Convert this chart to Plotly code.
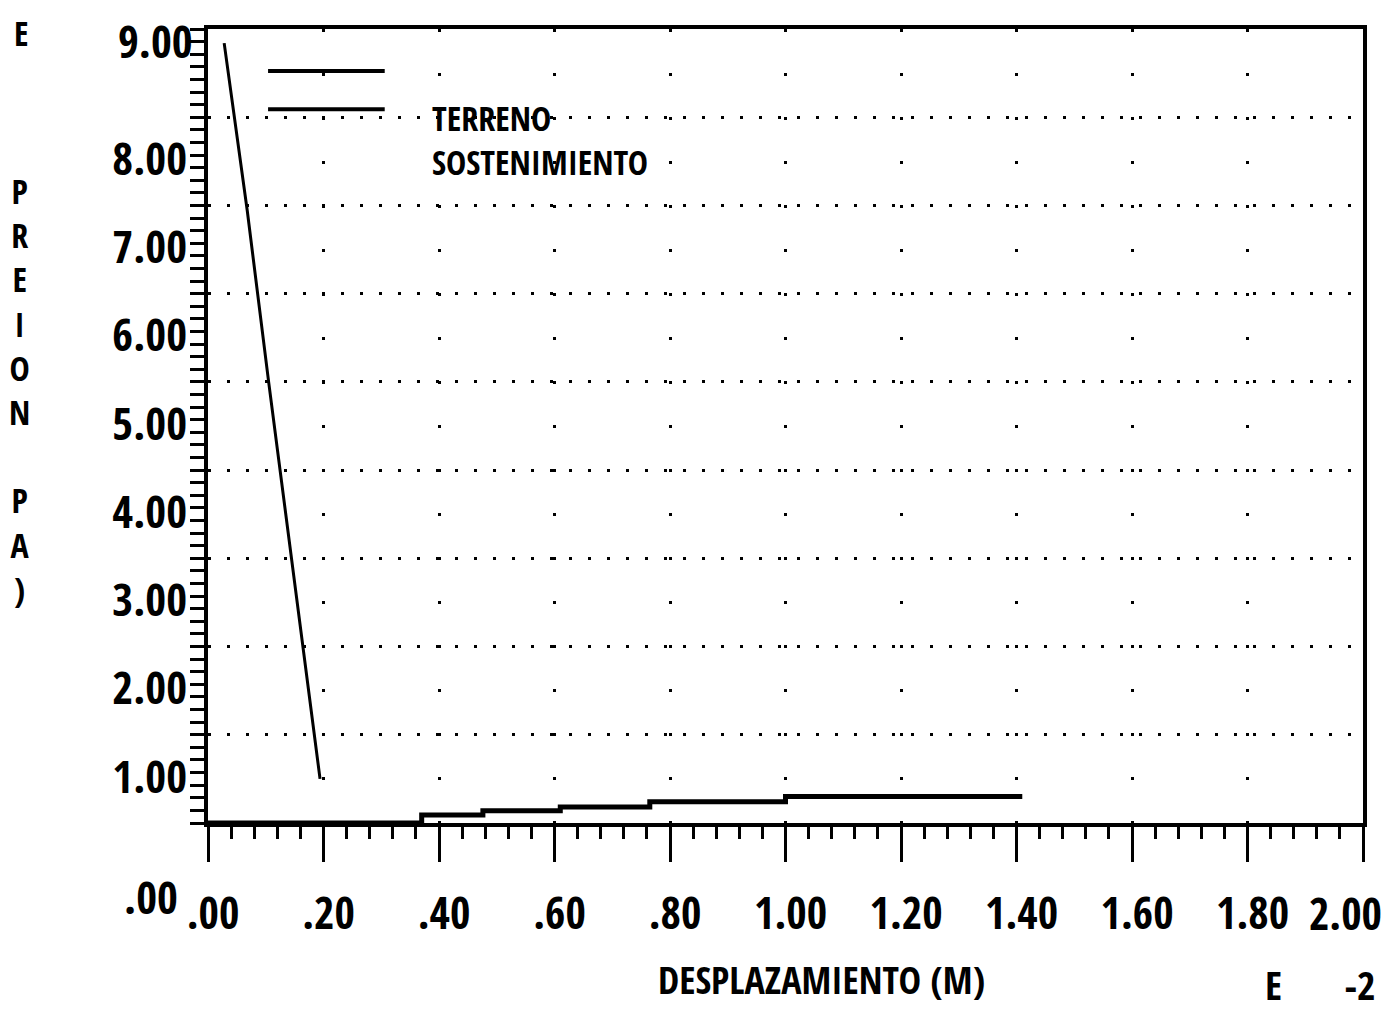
import plotly.graph_objects as go

# Curva del terreno (presion vs desplazamiento, escala E -2)
terreno_x = [0.028, 0.068, 0.105, 0.154, 0.194]
terreno_y = [8.84, 6.94, 5.00, 2.52, 0.50]

# Curva del sostenimiento (escalones)
sost_x = [0.0, 0.37, 0.476, 0.61, 0.765, 1.0, 1.41]
sost_y = [0.0, 0.09, 0.14, 0.18, 0.24, 0.30, 0.30]

series_names = ["TERRENO", "SOSTENIMIENTO"]

x_tick_vals = [0.0, 0.2, 0.4, 0.6, 0.8, 1.0, 1.2, 1.4, 1.6, 1.8, 2.0]
x_tick_text = [".00", ".20", ".40", ".60", ".80", "1.00", "1.20", "1.40", "1.60", "1.80", "2.00"]
y_tick_vals = [1, 2, 3, 4, 5, 6, 7, 8]
y_tick_text = ["1.00", "2.00", "3.00", "4.00", "5.00", "6.00", "7.00", "8.00"]
y_low_label = ".00"
y_top_label = "9.00"

x_title = "DESPLAZAMIENTO (M)"
y_title = "PREION PA)"   # tal como aparece en el original

FONT = "Noto Sans ExtraCondensed, Open Sans Condensed, Noto Sans Condensed, DejaVu Sans Condensed, sans-serif"


def f(size):
    return dict(family=FONT, size=size, color="black", weight="bold")


fig = go.Figure()
fig.add_trace(go.Scatter(
    x=terreno_x, y=terreno_y, mode="lines", name=series_names[0],
    line=dict(color="black", width=3), showlegend=False,
))
fig.add_trace(go.Scatter(
    x=sost_x, y=sost_y, mode="lines", name=series_names[1],
    line=dict(color="black", width=5, shape="hv"), showlegend=False,
))

# la ultima etiqueta (2.00) va como anotacion para que no se recorte en el borde
fig.update_xaxes(
    range=[0, 2.0], tickvals=x_tick_vals, ticktext=x_tick_text[:-1] + [""],
    ticks="outside", ticklen=35, tickwidth=3, tickcolor="black",
    minor=dict(dtick=0.04, ticks="outside", ticklen=12, tickwidth=3, tickcolor="black", showgrid=False),
    showline=True, linewidth=4, linecolor="black", mirror=True,
    showgrid=True, gridcolor="black", gridwidth=3, griddash="3px,41px",
    zeroline=False, ticklabelstandoff=14, ticklabelshift=5,
    tickfont=f(44),
)
fig.update_yaxes(
    range=[0, 9], tickvals=y_tick_vals, ticktext=y_tick_text,
    ticks="outside", ticklen=14, tickwidth=3, tickcolor="black",
    minor=dict(dtick=1 / 7, ticks="outside", ticklen=14, tickwidth=3, tickcolor="black", showgrid=False),
    showline=True, linewidth=4, linecolor="black", mirror=True,
    showgrid=True, gridcolor="black", gridwidth=3, griddash="3px,16px",
    zeroline=False, ticklabelshift=42, ticklabelstandoff=-6,
    tickfont=f(45),
)

annotations = [
    dict(text=y_top_label, x=-0.011, y=0.985, xanchor="right", yanchor="middle", font=f(45)),
    dict(text=y_low_label, x=-0.024, y=-0.093, xanchor="right", yanchor="middle", font=f(45)),
    dict(text=x_tick_text[-1], x=0.985, y=-0.113, xanchor="center", yanchor="middle", font=f(44)),
    dict(text="E", x=-0.162, y=0.995, xanchor="center", yanchor="middle", font=f(34)),
    dict(text="<br>".join(y_title), x=-0.163, y=0.828,
         xanchor="center", yanchor="top", font=f(34)),
    dict(text=x_title, x=0.531, y=-0.196, xanchor="center", yanchor="middle", font=f(38)),
    dict(text="E" + "\u00a0" * 6 + "-2", x=1.013, y=-0.203, xanchor="right", yanchor="middle", font=f(40)),
    dict(text="<br>".join(series_names), x=0.192, y=0.86, xanchor="left", yanchor="middle",
         align="left", font=f(34)),
]
for a in annotations:
    a.update(xref="paper", yref="paper", showarrow=False)

# muestras de linea de la leyenda
shapes = [
    dict(type="line", xref="paper", yref="paper", x0=0.052, x1=0.153, y0=0.947, y1=0.947,
         line=dict(color="black", width=4)),
    dict(type="line", xref="paper", yref="paper", x0=0.052, x1=0.153, y0=0.899, y1=0.899,
         line=dict(color="black", width=4)),
]

fig.update_layout(
    width=1378, height=1021,
    margin=dict(l=200, r=23, t=21, b=206),
    paper_bgcolor="white", plot_bgcolor="white",
    annotations=annotations, shapes=shapes,
    showlegend=False,
)

fig.write_html("out.html")
